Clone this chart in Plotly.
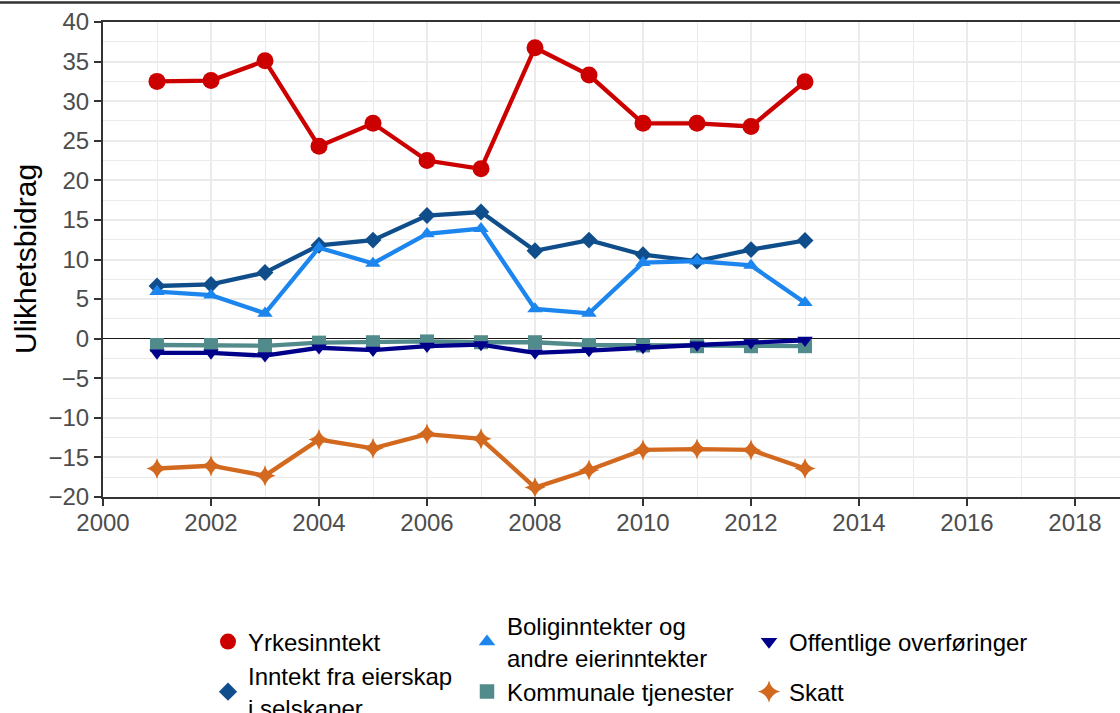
import plotly.graph_objects as go

years = [2001, 2002, 2003, 2004, 2005, 2006, 2007, 2008, 2009, 2010, 2011, 2012, 2013]

yrkesinntekt = [32.5, 32.6, 35.1, 24.3, 27.2, 22.5, 21.45, 36.75, 33.3, 27.2, 27.2, 26.8, 32.45]
eierskap = [6.65, 6.85, 8.35, 11.8, 12.45, 15.55, 16.0, 11.1, 12.45, 10.6, 9.8, 11.25, 12.4]
bolig = [5.95, 5.5, 3.2, 11.5, 9.5, 13.25, 13.9, 3.75, 3.2, 9.6, 9.8, 9.25, 4.55]
offentlige = [-1.8, -1.8, -2.15, -1.15, -1.45, -0.95, -0.75, -1.8, -1.5, -1.1, -0.8, -0.5, -0.2]
kommunale = [-0.8, -0.8, -0.9, -0.5, -0.45, -0.35, -0.45, -0.45, -0.8, -0.85, -0.95, -0.95, -0.95]
skatt = [-16.4, -16.05, -17.3, -12.75, -13.85, -12.05, -12.65, -18.8, -16.6, -14.05, -13.95, -14.05, -16.4]

series = [
    ("Yrkesinntekt", yrkesinntekt, "#CD0000", "circle", 17, 16),
    ("Inntekt fra eierskap<br>i selskaper", eierskap, "#104E8B", "diamond", 13, 14),
    ("Boliginntekter og<br>andre eierinntekter", bolig, "#1C86EE", "triangle-up", 13.5, 14.5),
    ("Kommunale tjenester", kommunale, "#528B8B", "square", 14, 14.5),
    ("Offentlige overføringer", offentlige, "#00008B", "triangle-down", 13.5, 14.5),
    ("Skatt", skatt, "#D2691E", "star-diamond", 15, 16),
]

x_ticks = [2000, 2002, 2004, 2006, 2008, 2010, 2012, 2014, 2016, 2018]
y_ticks = [-20, -15, -10, -5, 0, 5, 10, 15, 20, 25, 30, 35, 40]

W, H = 1120, 713
ML, MR, MT, MB = 103, 0, 22, 216
PW = W - ML - MR
PH = H - MT - MB

fig = go.Figure()

# legend slots: (legend id, symbol-center px x, px y)
legend_slots = {
    "Yrkesinntekt": ("legend", 228, 642),
    "Inntekt fra eierskap<br>i selskaper": ("legend2", 228, 692),
    "Boliginntekter og<br>andre eierinntekter": ("legend3", 487, 642),
    "Kommunale tjenester": ("legend4", 487, 692),
    "Offentlige overføringer": ("legend5", 769, 642),
    "Skatt": ("legend6", 769, 692),
}

for name, vals, color, sym, msize, lsize in series:
    fig.add_trace(go.Scatter(
        x=years, y=vals, mode="lines+markers", name=name, showlegend=False,
        line=dict(color=color, width=4.3),
        marker=dict(symbol=sym, size=msize, color=color),
    ))

for name, vals, color, sym, msize, lsize in series:
    lid, px, py = legend_slots[name]
    fig.add_trace(go.Scatter(
        x=[None], y=[None], mode="markers", name=name, legend=lid,
        marker=dict(symbol=sym, size=lsize, color=color),
    ))

legend_common = dict(
    bgcolor="rgba(0,0,0,0)", borderwidth=0,
    font=dict(family="Liberation Sans, Arial, sans-serif", size=24, color="black"),
    xanchor="left", yanchor="middle", itemsizing="trace", itemwidth=30,
    orientation="v", xref="container", yref="container",
)
legend_layouts = {}
for name, (lid, px, py) in legend_slots.items():
    lx = (px - 20) / W
    ly = (H - py) / H
    legend_layouts[lid] = dict(legend_common, x=lx, y=ly)

FONT = "Liberation Sans, Arial, sans-serif"
axis_font = dict(family=FONT, size=24, color="#4D4D4D")

fig.update_layout(
    width=W, height=H,
    margin=dict(l=ML, r=MR, t=MT, b=MB, pad=0, autoexpand=False),
    paper_bgcolor="white", plot_bgcolor="white",
    **legend_layouts,
    xaxis=dict(
        range=[2000, 2000 + PW / 54.0], automargin=False,
        tickvals=x_ticks, ticktext=[str(v) for v in x_ticks],
        showgrid=True, gridcolor="#EBEBEB", gridwidth=2,
        minor=dict(dtick=1, tick0=2000, showgrid=True, gridcolor="#EBEBEB", gridwidth=1, ticks=""),
        showline=True, linecolor="#333333", linewidth=2, mirror=True,
        ticks="outside", ticklen=7, tickwidth=2, tickcolor="#333333",
        tickfont=axis_font, zeroline=False, ticklabelstandoff=-4,
    ),
    yaxis=dict(
        range=[-20, 40], automargin=False,
        tickvals=y_ticks,
        showgrid=True, gridcolor="#EBEBEB", gridwidth=2,
        minor=dict(dtick=2.5, tick0=0, showgrid=True, gridcolor="#EBEBEB", gridwidth=1, ticks=""),
        showline=True, linecolor="#333333", linewidth=2,
        ticks="outside", ticklen=7, tickwidth=2, tickcolor="#333333",
        tickfont=axis_font,
        zeroline=True, zerolinecolor="#1A1A1A", zerolinewidth=1,
    ),
    annotations=[dict(
        text="Ulikhetsbidrag", textangle=-90, showarrow=False,
        xref="paper", yref="paper",
        x=(25 - ML) / PW, y=(H - MB - 259) / PH,
        xanchor="center", yanchor="middle",
        font=dict(family=FONT, size=30, color="black"),
    )],
    shapes=[dict(type="line", xref="paper", yref="paper",
                 x0=-ML / PW, x1=1.0, y0=(H - MB - 2.5) / PH, y1=(H - MB - 2.5) / PH,
                 line=dict(color="#333333", width=2.5))],
)

fig.write_html(
    "out.html",
    config={"displayModeBar": False},
    post_script="document.body.style.margin='0';document.body.style.overflow='hidden';",
)
